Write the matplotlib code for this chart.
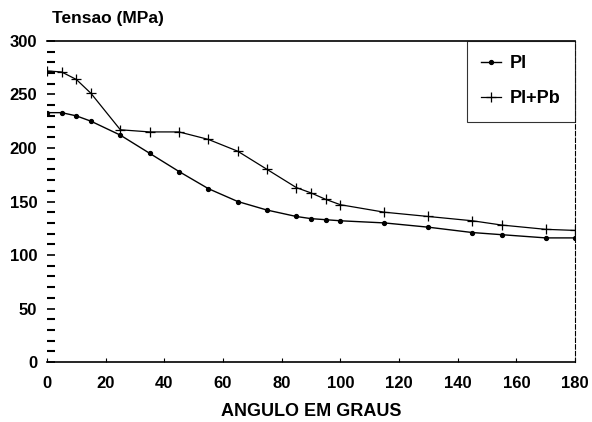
#!/usr/bin/env python3
"""
Tensao vs angulo - Pl e Pl+Pb
"""

import matplotlib
matplotlib.use('Agg')
import matplotlib.pyplot as plt
from matplotlib.ticker import MultipleLocator

plt.rcParams['font.family'] = ['Liberation Sans', 'DejaVu Sans']
plt.rcParams['font.weight'] = 'bold'

# Data
angulo = [0, 5, 10, 15, 25, 35, 45, 55, 65, 75, 85, 90, 95, 100,
          115, 130, 145, 155, 170, 180]
tensao_pl = [233, 233, 230, 225, 212, 195, 178, 162, 150, 142, 136, 134, 133, 132,
             130, 126, 121, 119, 116, 116]
tensao_plpb = [272, 271, 264, 251, 217, 215, 215, 208, 197, 180, 163, 158, 152, 147,
               140, 136, 132, 128, 124, 123]

x_ticks = list(range(0, 181, 20))
y_ticks = list(range(0, 301, 50))

fig = plt.figure(figsize=(5.92, 4.22), dpi=100)
ax = fig.add_axes([0.0794, 0.142, 0.892, 0.761])

ax.plot(angulo, tensao_pl, color='black', linewidth=1.0, marker='o',
        markersize=2.8, label='Pl')
ax.plot(angulo, tensao_plpb, color='black', linewidth=0.9, marker='+',
        markersize=7, markeredgewidth=0.9, label='Pl+Pb')

ax.set_xlim(0, 180)
ax.set_ylim(0, 300)
ax.set_xticks(x_ticks)
ax.set_yticks(y_ticks)
ax.yaxis.set_minor_locator(MultipleLocator(10))

ax.tick_params(axis='y', which='major', direction='in', length=6, width=1.2,
               labelsize=12, pad=7)
ax.tick_params(axis='y', which='minor', direction='in', length=6, width=1.5)
ax.tick_params(axis='x', which='major', direction='in', length=3, width=0.8,
               labelsize=12, pad=10)

for lbl in ax.get_xticklabels() + ax.get_yticklabels():
    lbl.set_fontweight('bold')

for side in ['top', 'bottom']:
    ax.spines[side].set_linewidth(1.2)
ax.spines['right'].set_linewidth(0.8)
ax.spines['right'].set_linestyle((0, (4, 2)))
ax.spines['left'].set_visible(False)

fig.text(52 / 592, 1 - 19 / 422, 'Tensao (MPa)', fontsize=12.5, fontweight='bold',
         ha='left', va='center')
ax.set_xlabel('ANGULO EM GRAUS', fontsize=13, fontweight='bold', labelpad=9)

leg = ax.legend(loc='upper right', borderaxespad=0, frameon=True, fancybox=False,
                edgecolor='black', handlelength=1.1,
                handletextpad=0.5, borderpad=0.8, labelspacing=1.0,
                prop={'weight': 'bold', 'size': 13})
leg.get_frame().set_linewidth(0.8)

plt.savefig('out.png', dpi=100)
plt.close()
